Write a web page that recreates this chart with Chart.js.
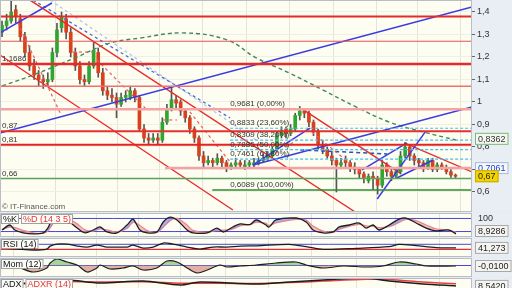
<!DOCTYPE html>
<html>
<head>
<meta charset="utf-8">
<script src="https://cdn.jsdelivr.net/npm/chart.js@4.4.1/dist/chart.umd.min.js"></script>
<style>
html, body { margin: 0; padding: 0; background: #e4ebf1; width: 512px; height: 288px; overflow: hidden; }
canvas { position: absolute; left: 0; }
</style>
</head>
<body>
<canvas id="price" width="512" height="212" style="top:0"></canvas>
<canvas id="stoch" width="512" height="24" style="top:213px"></canvas>
<canvas id="rsi" width="512" height="19" style="top:238px"></canvas>
<canvas id="mom" width="512" height="19" style="top:258px"></canvas>
<canvas id="adx" width="512" height="20" style="top:278px"></canvas>
<script>
/* -------------------------------
   DATA
--------------------------------*/
const candleOpen = [
  1.31,1.34,1.36,1.41,1.37,1.29,1.22,1.16,1.12,1.10,
  1.09,1.10,1.22,1.33,1.37,1.31,1.22,1.16,1.10,1.09,
  1.16,1.22,1.13,1.05,1.03,1.02,0.99,1.02,1.02,1.05,
  1.02,0.88,0.84,0.83,0.84,0.83,0.91,0.97,1.01,1.00,
  0.96,0.93,0.88,0.84,0.76,0.73,0.74,0.73,0.75,0.73,
  0.71,0.72,0.73,0.71,0.72,0.72,0.73,0.74,0.75,0.76,
  0.79,0.85,0.88,0.86,0.88,0.94,0.96,0.95,0.91,0.87,
  0.81,0.79,0.76,0.74,0.72,0.74,0.73,0.71,0.70,0.68,
  0.65,0.67,0.66,0.63,0.72,0.69,0.67,0.69,0.76,0.80,
  0.76,0.74,0.73,0.71,0.74,0.70,0.72,0.71,0.69,0.675
];
const candleClose = [
  1.34,1.36,1.40,1.38,1.29,1.22,1.16,1.12,1.10,1.09,
  1.10,1.22,1.32,1.38,1.31,1.22,1.16,1.10,1.09,1.16,
  1.23,1.13,1.05,1.03,1.02,0.99,1.02,1.03,1.05,1.02,
  0.88,0.84,0.83,0.84,0.83,0.91,0.97,1.01,0.995,0.96,
  0.93,0.88,0.84,0.76,0.73,0.74,0.73,0.75,0.73,0.71,
  0.72,0.73,0.72,0.72,0.73,0.73,0.74,0.75,0.76,0.79,
  0.85,0.875,0.86,0.88,0.94,0.96,0.95,0.91,0.87,0.81,
  0.79,0.76,0.74,0.72,0.73,0.73,0.71,0.70,0.68,0.66,
  0.67,0.66,0.63,0.72,0.69,0.67,0.69,0.76,0.80,0.76,
  0.74,0.73,0.71,0.74,0.70,0.72,0.71,0.69,0.675,0.67
];
const candleHigh = [
  1.36,1.39,1.45,1.43,1.39,1.31,1.25,1.19,1.14,1.12,
  1.13,1.24,1.35,1.40,1.39,1.33,1.24,1.18,1.12,1.18,
  1.27,1.24,1.15,1.07,1.06,1.04,1.04,1.05,1.07,1.06,
  1.03,0.90,0.86,0.86,0.86,0.93,0.99,1.07,1.03,1.01,
  0.97,0.94,0.89,0.85,0.78,0.76,0.75,0.77,0.76,0.74,
  0.73,0.75,0.74,0.74,0.74,0.75,0.75,0.77,0.78,0.80,
  0.87,0.89,0.89,0.90,0.95,0.98,0.97,0.96,0.92,0.88,
  0.83,0.80,0.78,0.75,0.75,0.76,0.74,0.73,0.71,0.69,
  0.68,0.69,0.67,0.74,0.73,0.70,0.71,0.78,0.82,0.81,
  0.77,0.75,0.74,0.75,0.75,0.73,0.73,0.72,0.70,0.68
];
const candleLow = [
  1.29,1.32,1.35,1.35,1.27,1.20,1.14,1.10,1.07,1.06,
  1.07,1.09,1.20,1.31,1.28,1.20,1.14,1.08,1.07,1.08,
  1.15,1.11,1.03,1.01,1.00,0.93,0.98,1.00,1.01,1.00,
  0.87,0.82,0.81,0.82,0.81,0.82,0.90,0.96,0.97,0.94,
  0.91,0.86,0.82,0.74,0.71,0.72,0.71,0.72,0.71,0.69,
  0.70,0.71,0.71,0.70,0.71,0.71,0.72,0.73,0.74,0.75,
  0.78,0.84,0.84,0.85,0.87,0.92,0.93,0.89,0.85,0.79,
  0.77,0.75,0.72,0.60,0.71,0.71,0.69,0.68,0.66,0.64,
  0.64,0.61,0.59,0.62,0.67,0.65,0.66,0.68,0.75,0.74,
  0.72,0.71,0.69,0.70,0.69,0.69,0.70,0.68,0.665,0.66
];

// long moving average (green dashed), sampled at candle indexes
const maIdx = [0, 6.8, 16.4, 23.6, 30.1, 39.5, 49.1, 55.5, 62.7, 70.1, 77.3, 84.5, 91.9, 99.1];
const maVal = [1.071, 1.12, 1.2, 1.262, 1.284, 1.307, 1.276, 1.196, 1.129, 1.053, 0.978, 0.911, 0.867, 0.831];

const yTicks = [0.6, 0.7, 0.8, 0.9, 1.0, 1.1, 1.2, 1.3, 1.4];
const gridIdx = [2.6, 20.7, 29.7, 38.9, 48.7, 58.1, 67.5, 77.3, 86.0, 95.4];

// horizontal levels
const levelValues = [1.38, 1.27, 1.1686, 1.07, 0.9681, 0.87, 0.81, 0.66];
const leftLabelValues = [1.1686, 0.87, 0.81, 0.66];
const supportValue = 0.7061, supportFrom = 35.6;

// fibonacci retracement
const fibStart = 49.8, fibLowFrom = 45.9;
const fibLevels = [0.9681, 0.8833, 0.8309, 0.7885, 0.7461, 0.6089];
const fibPercent = ['0,00%', '23,60%', '38,20%', '50,00%', '61,80%', '100,00%'];

// trend lines [idx1, value1, idx2, value2]
const blueLines = [
  [-0.44, 0.862, 102.6, 1.422],
  [54.8, 0.72, 102.6, 0.978],
  [54.8, 0.72, 67.2, 0.884],
  [81.9, 0.569, 92.4, 0.867],
  [78.6, 0.698, 88.4, 0.818],
  [86.2, 0.662, 94.1, 0.742],
  [-0.44, 1.307, 10.9, 1.44]
];
const redLines = [
  [6.1, 1.453, 77.1, 0.511],
  [-0.44, 1.209, 50.4, 0.52],
  [65.5, 0.969, 86.9, 0.684],
  [87.8, 0.818, 102.6, 0.689]
];
const redDashLines = [
  [3.5, 1.351, 12.7, 0.951],
  [20.7, 1.187, 31.7, 0.964],
  [15.5, 1.222, 19.9, 1.222],
  [35.2, 0.92, 38.2, 0.92],
  [41, 0.956, 49.8, 0.733],
  [66.6, 0.884, 78.2, 0.689],
  [57.4, 0.742, 64.4, 0.831]
];
const blueDashLines = [[6.8, 1.453, 49.8, 0.929]];
const paleDashLines = [[10.5, 1.453, 55.5, 0.831]];
const navyDashLines = [[65.1, 0.787, 84.1, 0.769]];

const lastValues = { upper: 0.8362, support: 0.7061, close: 0.67 };

// indicators
const stochIdx = [0,1.7,2.8,4.6,6.8,9,10,11.1,12.2,14.2,16.4,18.1,19.9,21.4,22.9,25.1,27.3,28.6,30.1,31.7,
  33.8,35.2,36.7,38.2,40.4,41.7,44.8,46.9,48.3,50.4,52,54.1,55.5,57.6,58.3,59.8,64.2,66.4,67.9,70.1,
  72.3,73.6,75.8,78,79.5,81,82.3,84.5,86.7,88.2,90.4,92.6,94.8,97.6,99.1];
const stochK = [27,50,27,14,9,14,36,82,91,73,36,14,27,41,18,14,50,77,27,14,
  18,64,86,73,27,14,14,36,18,41,55,52,73,50,41,73,82,64,27,14,
  18,41,50,59,36,50,27,50,77,82,59,36,23,27,8.9286];
const stochD = [30,40,38,25,14,12,22,55,80,82,55,28,22,32,28,18,34,62,48,24,
  16,40,70,80,50,25,16,26,26,32,46,52,62,58,48,60,76,72,45,22,
  16,30,44,53,46,44,38,42,62,76,70,50,32,26,17];

const rsiIdx = [0,3.3,6.8,9.8,10.5,12,14.2,16.4,18.6,20.7,22.9,25.1,27.3,28.6,30.8,33,35.2,37.3,40.4,43.2,
  46.1,49.1,52,55.5,62.7,66.4,70.1,77.3,84.5,86.7,90.4,94.8,99.1];
const rsiVal = [40,32,24,32,56,72,72,56,48,64,48,48,48,64,40,48,80,72,48,32,
  48,48,56,58,70,51,30,38,51,70,59,43,41.273];

const momIdx = [0,3.3,6.8,9.8,10.5,12,14.2,16.4,18.6,20.7,21.4,23.6,26.4,28.6,30.8,33.8,36,38.2,40.4,42.6,
  44.8,47.6,49.1,52,55.5,59.8,64.2,66.4,70.1,74.5,79.5,83.2,86.7,90.4,92.6,99.1];
const momVal = [-0.01,-0.03,-0.13,-0.05,0.05,0.13,0.07,0.01,-0.13,-0.05,0.01,-0.07,-0.05,-0.01,-0.09,-0.05,0.09,0.07,-0.05,-0.15,
  -0.09,0.01,-0.03,-0.01,0.01,0.05,0.07,0.01,-0.05,-0.01,-0.03,-0.01,0.07,0.03,-0.01,-0.01];

const adxIdx = [0,3.3,9.8,14.2,21.4,30.8,38.9,43.2,55.5,62.9,70.1,79.5,84.5,91.9,99.1];
const adxVal = [13.3,11.7,15,18.3,13.3,16.7,10,15,11.7,15,18.3,21.7,16.7,11.7,8.542];
const adxrVal = [14,13,14,16,15,15.5,13,13,12.5,14,16.5,19.5,19,15,12];

/* -------------------------------
   HELPERS
--------------------------------*/
const X_MIN = -0.44, X_MAX = 102.6;
const FONT = '"Liberation Sans", Arial, sans-serif';

function fmtNum(v) {
    return String(v).replace('.', ',');
}

function pts(xs, ys) {
    return xs.map((x, k) => ({ x, y: ys[k] }));
}

function seg(p, color, width, dash) {
    return {
        type: 'line',
        data: [{ x: p[0], y: p[1] }, { x: p[2], y: p[3] }],
        borderColor: color,
        borderWidth: width,
        borderDash: dash || [],
        pointRadius: 0,
        fill: false,
        order: 1
    };
}

function hline(v, color, width, from, dash) {
    return seg([from === undefined ? X_MIN : from, v, X_MAX, v], color, width, dash);
}

function xAxis() {
    return {
        type: 'linear', min: X_MIN, max: X_MAX, offset: false,
        grid: { color: '#e4e4d8', drawTicks: false },
        border: { display: false },
        ticks: { display: false },
        afterBuildTicks: s => { s.ticks = gridIdx.map(v => ({ value: v })); },
        afterFit: s => { s.height = 0; s.paddingLeft = 0; s.paddingRight = 0; }
    };
}

function yAxis(min, max) {
    return {
        position: 'right', min, max,
        afterFit: s => { s.width = 40; s.paddingTop = 0; s.paddingBottom = 0; },
        border: { display: false },
        grid: { display: false },
        ticks: { display: false }
    };
}

const frame = {
    id: 'frame',
    beforeDraw(chart) {
        const { ctx, chartArea: a, width, height } = chart;
        ctx.save();
        ctx.fillStyle = '#e8eef3';
        ctx.fillRect(0, 0, width, height);
        ctx.fillStyle = '#fdfdf1';
        ctx.fillRect(a.left, a.top, a.right - a.left, a.bottom - a.top);
        ctx.restore();
    },
    afterDraw(chart) {
        const { ctx, chartArea: a } = chart;
        ctx.save();
        ctx.strokeStyle = '#b9bec4';
        ctx.strokeRect(a.left + 0.5, a.top + 0.5, a.right - a.left - 1, a.bottom - a.top - 1);
        ctx.restore();
    }
};

function valueBox(chart, text, v, bg, border, color) {
    const { ctx, chartArea: a, scales: { y }, height } = chart;
    let cy = y.getPixelForValue(v);
    cy = Math.max(6, Math.min(height - 6, cy));
    ctx.save();
    ctx.font = '9px ' + FONT;
    const w = ctx.measureText(text).width + 6;
    ctx.fillStyle = bg;
    ctx.fillRect(a.right + 3, cy - 6, w, 12);
    ctx.strokeStyle = border;
    ctx.strokeRect(a.right + 3.5, cy - 5.5, w - 1, 11);
    ctx.fillStyle = color;
    ctx.textBaseline = 'middle';
    ctx.fillText(text, a.right + 6, cy + 0.5);
    ctx.restore();
}

function tags(chart, items) {
    const { ctx, chartArea: a } = chart;
    ctx.save();
    ctx.font = '9px ' + FONT;
    ctx.textBaseline = 'middle';
    let x = a.left + 1;
    items.forEach(([text, color]) => {
        const w = ctx.measureText(text).width + 4;
        ctx.fillStyle = '#fbfbf7';
        ctx.fillRect(x, a.top + 1, w, 10);
        ctx.strokeStyle = '#a0a0a0';
        ctx.strokeRect(x + 0.5, a.top + 1.5, w - 1, 9);
        ctx.fillStyle = color;
        ctx.fillText(text, x + 2, a.top + 6.5);
        x += w + 2;
    });
    ctx.restore();
}

/* -------------------------------
   PRICE PANEL
--------------------------------*/
const priceNotes = {
    id: 'priceNotes',
    afterDatasetsDraw(chart) {
        const { ctx, chartArea: a, scales: { x, y } } = chart;
        ctx.save();
        ctx.font = '8px ' + FONT;
        ctx.fillStyle = '#333';
        ctx.textBaseline = 'bottom';
        leftLabelValues.forEach(v => ctx.fillText(fmtNum(v), a.left + 2, y.getPixelForValue(v) - 1));
        const fx = x.getPixelForValue(fibStart);
        fibLevels.forEach((v, k) => ctx.fillText(fmtNum(v) + ' (' + fibPercent[k] + ')', fx, y.getPixelForValue(v) - 1));
        ctx.fillStyle = '#555';
        ctx.fillText('\u00A9 IT-Finance.com', a.left + 2, a.bottom - 1);
        ctx.restore();
    },
    afterDraw(chart) {
        valueBox(chart, fmtNum(lastValues.upper), lastValues.upper, '#f3f8ef', '#7ab87a', '#333');
        valueBox(chart, fmtNum(lastValues.support), lastValues.support, '#f4f7fc', '#aab8d6', '#2244cc');
        valueBox(chart, fmtNum(lastValues.close), lastValues.close, '#f2d400', '#c9a800', '#222');
    }
};

const upColor = '#2fa62f', downColor = '#d9401e';

const priceSets = [
    {
        type: 'bar',
        data: candleLow.map((l, i) => ({ x: i, y: [l, candleHigh[i]] })),
        backgroundColor: '#555555',
        barThickness: 1,
        grouped: false,
        order: 6
    },
    {
        type: 'bar',
        data: candleOpen.map((o, i) => ({ x: i, y: [o, candleClose[i]] })),
        backgroundColor: candleClose.map((c, i) => c >= candleOpen[i] ? upColor : downColor),
        barThickness: 3,
        grouped: false,
        order: 5
    },
    {
        type: 'line',
        data: pts(maIdx, maVal),
        borderColor: '#3f8a5c',
        borderWidth: 1.4,
        borderDash: [4, 3],
        pointRadius: 0,
        tension: 0.4,
        fill: false,
        order: 4
    }
];

const levelStyles = [
    ['#e52a2a', 2], ['#e65050', 1], ['#e52a2a', 2.5], ['#ee7070', 1.5],
    ['#f3a3a3', 2.5], ['#e53030', 2], ['#e52222', 2], ['#5aa35a', 1.5]
];
levelValues.forEach((v, k) => priceSets.push(hline(v, levelStyles[k][0], levelStyles[k][1])));
priceSets.push(hline(supportValue, '#f3a3a3', 2.5, supportFrom));
priceSets.push(hline(fibLevels[5], '#2e8b2e', 1.5, fibLowFrom));
fibLevels.slice(1, 5).forEach(v => priceSets.push(hline(v, '#45c0f2', 1.2, fibStart, [3, 2])));
blueLines.forEach(p => priceSets.push(seg(p, '#3b3be2', 1.5)));
redLines.forEach(p => priceSets.push(seg(p, '#e82c2c', 1.4)));
redDashLines.forEach(p => priceSets.push(seg(p, '#e66060', 1.2, [3, 3])));
blueDashLines.forEach(p => priceSets.push(seg(p, '#4a6fd6', 1.3, [3, 3])));
paleDashLines.forEach(p => priceSets.push(seg(p, '#b4c2f0', 1.3, [3, 3])));
navyDashLines.forEach(p => priceSets.push(seg(p, '#2b4fc2', 1.5, [4, 3])));

const priceY = yAxis(0.511, 1.4533);
priceY.grid = { display: true, color: '#efefe4', tickColor: '#666', tickLength: 3 };
priceY.ticks = {
    display: true, color: '#333', padding: 2,
    font: { size: 9, family: FONT },
    callback: v => fmtNum(Math.round(v * 10) / 10)
};
priceY.afterBuildTicks = s => { s.ticks = yTicks.map(v => ({ value: v })); };

new Chart(document.getElementById('price'), {
    type: 'bar',
    data: { datasets: priceSets },
    options: {
        responsive: false, animation: false, devicePixelRatio: 1,
        layout: { padding: 0 },
        plugins: { legend: { display: false }, tooltip: { enabled: false } },
        scales: { x: xAxis(), y: priceY }
    },
    plugins: [frame, priceNotes]
});

/* -------------------------------
   INDICATOR PANELS
--------------------------------*/
function makePanel(id, yMin, yMax, datasets, notes) {
    return new Chart(document.getElementById(id), {
        type: 'line',
        data: { datasets },
        options: {
            responsive: false, animation: false, devicePixelRatio: 1,
            layout: { padding: 0 },
            elements: { point: { radius: 0 }, line: { tension: 0.3 } },
            plugins: { legend: { display: false }, tooltip: { enabled: false } },
            scales: { x: xAxis(), y: yAxis(yMin, yMax) }
        },
        plugins: [frame, { id: id + 'Notes', afterDraw: notes }]
    });
}

makePanel('stoch', -5, 105, [
    {
        data: pts(stochIdx, stochK), borderColor: '#1e1e1e', borderWidth: 1.3,
        fill: { target: 1, above: 'rgba(112,112,226,0.55)', below: 'rgba(242,140,140,0.55)' }
    },
    { data: pts(stochIdx, stochD), borderColor: '#f08c8c', borderWidth: 1.3, fill: false },
    hline(80, '#4646e0', 1),
    hline(20, '#4646e0', 1)
], chart => {
    tags(chart, [['%K', '#111'], ['%D (14 3 5)', '#e03a3a']]);
    const { ctx, chartArea: a } = chart;
    ctx.save();
    ctx.font = '9px ' + FONT;
    ctx.fillStyle = '#333';
    ctx.textBaseline = 'top';
    ctx.fillText('100', a.right + 6, a.top + 1);
    ctx.restore();
    const last = stochK[stochK.length - 1];
    valueBox(chart, fmtNum(last.toFixed(4)), last, '#f4f4f0', '#a8a8a8', '#222');
});

makePanel('rsi', -31.6, 120.4, [
    { data: pts(rsiIdx, rsiVal), borderColor: '#1e1e1e', borderWidth: 1.3, fill: false },
    hline(70, '#4646e0', 1),
    hline(30, '#e83030', 1.3)
], chart => {
    tags(chart, [['RSI (14)', '#111']]);
    valueBox(chart, fmtNum(rsiVal[rsiVal.length - 1]), rsiVal[rsiVal.length - 1], '#f4f4f0', '#a8a8a8', '#222');
});

makePanel('mom', -0.23, 0.15, [
    {
        data: pts(momIdx, momVal), borderColor: '#1e1e1e', borderWidth: 1.2,
        fill: { value: 0, above: 'rgba(140,198,118,0.75)', below: 'rgba(214,150,140,0.75)' }
    },
    hline(0, '#4646e0', 1)
], chart => {
    tags(chart, [['Mom (12)', '#111']]);
    const last = momVal[momVal.length - 1];
    valueBox(chart, fmtNum(last.toFixed(4)), last, '#f4f4f0', '#a8a8a8', '#222');
});

makePanel('adx', -11.7, 21.7, [
    { data: pts(adxIdx, adxVal), borderColor: '#1e1e1e', borderWidth: 1.5, fill: false },
    { data: pts(adxIdx, adxrVal), borderColor: '#e84040', borderWidth: 1.5, fill: false }
], chart => {
    tags(chart, [['ADX', '#111'], ['ADXR (14)', '#e03a3a']]);
    const last = adxVal[adxVal.length - 1];
    valueBox(chart, fmtNum(last.toFixed(4)), last, '#f4f4f0', '#a8a8a8', '#222');
});
</script>
</body>
</html>
